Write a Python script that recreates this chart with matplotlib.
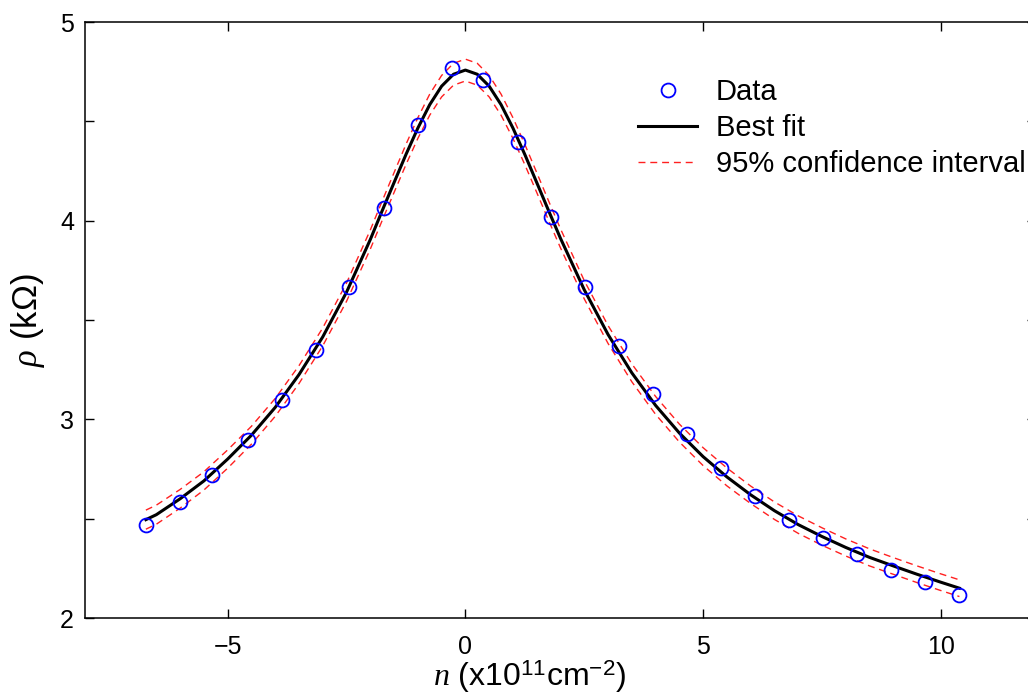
import numpy as np
import matplotlib
matplotlib.use("Agg")
import matplotlib.pyplot as plt

plt.rcParams["font.family"] = ["Liberation Sans", "DejaVu Sans"]
plt.rcParams["mathtext.fontset"] = "custom"
plt.rcParams["mathtext.rm"] = "Liberation Sans"
plt.rcParams["mathtext.it"] = "Liberation Serif:italic"

# measured points
n_data = [-6.72, -6.00, -5.32, -4.58, -3.86, -3.14, -2.44, -1.72, -1.00, -0.28,
          0.38, 1.10, 1.80, 2.51, 3.22, 3.94, 4.66, 5.38, 6.10, 6.81,
          7.51, 8.23, 8.95, 9.67, 10.39]
rho_data = [2.469, 2.584, 2.720, 2.896, 3.098, 3.349, 3.666, 4.064, 4.482, 4.768,
            4.708, 4.396, 4.019, 3.666, 3.369, 3.128, 2.926, 2.755, 2.614, 2.494,
            2.403, 2.323, 2.242, 2.182, 2.116]

# best fit curve
n_fit = [-6.72, -6.5, -6.0, -5.5, -5.0, -4.5, -4.0, -3.5, -3.0, -2.5, -2.0, -1.75,
         -1.5, -1.25, -1.0, -0.75, -0.5, -0.25, 0.0, 0.25, 0.5, 0.75, 1.0, 1.25,
         1.5, 1.75, 2.0, 2.5, 3.0, 3.5, 4.0, 4.5, 5.0, 5.5, 6.0, 6.5, 7.0, 7.5,
         8.0, 8.5, 9.0, 9.5, 10.0, 10.39]
rho_fit = [2.495, 2.520, 2.600, 2.690, 2.800, 2.920, 3.060, 3.225, 3.415, 3.640, 3.905, 4.050,
           4.192, 4.333, 4.466, 4.584, 4.677, 4.737, 4.758, 4.737, 4.677, 4.584, 4.466, 4.333,
           4.192, 4.050, 3.911, 3.652, 3.427, 3.234, 3.070, 2.931, 2.812, 2.710, 2.620, 2.540, 2.470, 2.410,
           2.355, 2.305, 2.262, 2.220, 2.180, 2.150]
# half width of the 95% band
band = [0.048, 0.048, 0.047, 0.046, 0.046, 0.045, 0.045, 0.045, 0.045, 0.046, 0.048, 0.049,
        0.050, 0.051, 0.052, 0.053, 0.054, 0.055, 0.055, 0.055, 0.054, 0.053, 0.052, 0.051,
        0.050, 0.049, 0.048, 0.046, 0.045, 0.045, 0.045, 0.045, 0.045, 0.045, 0.044, 0.044, 0.044, 0.044,
        0.043, 0.043, 0.042, 0.042, 0.042, 0.042]

rho_fit = np.array(rho_fit)
band = np.array(band)

fig = plt.figure(figsize=(10.28, 7.0), dpi=100)
ax = fig.add_axes([85/1028, 82/700, 951/1028, 596/700])

ax.plot(n_fit, rho_fit + band, "--", color="#ff2020", lw=1.0, dashes=(5, 3.5), zorder=2)
ax.plot(n_fit, rho_fit - band, "--", color="#ff2020", lw=1.0, dashes=(5, 3.5), zorder=2,
        label="95% confidence interval")
ax.plot(n_fit, rho_fit, color="black", lw=2.2, zorder=3, label="Best fit")
ax.plot(n_data, rho_data, "o", mfc="none", mec="#0000ff", ms=10, mew=1.3, zorder=4,
        label="Data")

ax.set_xlim(-8, 12)
ax.set_ylim(2, 5)
ax.set_xticks([-5, 0, 5, 10])
ax.set_xticklabels(["\u22125", "0", "5", "10"])
ax.set_yticks([2, 2.5, 3, 3.5, 4, 4.5, 5])
ax.set_yticklabels(["2", "", "3", "", "4", "", "5"])
ax.tick_params(direction="in", length=6.5, width=1.0, labelsize=18,
               top=True, right=True)
ax.tick_params(axis="x", pad=12)
ax.tick_params(axis="y", pad=8)
for s in ax.spines.values():
    s.set_linewidth(1.1)

ax.set_xlabel(r"$n$ (x10$^{11}$cm$^{-2}$)", fontsize=23)
ax.xaxis.set_label_coords(0.467, -0.068)
ax.set_ylabel(r"$\rho$ (k$\Omega$)", fontsize=25)
ax.yaxis.set_label_coords(-0.04, 0.5)

h, l = ax.get_legend_handles_labels()
ax.legend(h[::-1], l[::-1], loc="upper left", bbox_to_anchor=(0.582, 0.906),
          frameon=False, fontsize=21, handlelength=2.0, labelspacing=0.28,
          handletextpad=0.65, borderaxespad=0, borderpad=0)

fig.savefig("out.png", dpi=100)
